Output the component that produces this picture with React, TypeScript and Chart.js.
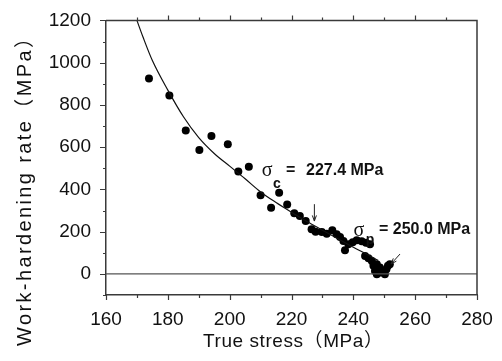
import React, { useEffect, useRef } from 'react';
import { Chart, registerables } from 'chart.js';

Chart.register(...registerables);

// Measured points: true stress (MPa) and work-hardening rate (MPa)
const stressValues = [
  173.9, 180.5, 185.8, 190.2, 194.1, 199.4, 202.8, 206.2, 210.0, 213.4,
  216.0, 218.6, 220.9, 222.7, 224.6, 226.5, 227.8, 229.8, 231.4, 233.2,
  234.6, 235.7, 236.8, 237.3, 238.4, 239.8, 241.1, 242.7, 244.1, 245.4,
  243.8, 244.9, 246.0, 246.5, 247.6, 248.6, 249.7, 250.2, 248.6, 247.0,
  250.7, 251.2, 251.8, 247.6,
];
const rateValues = [
  925, 844, 679, 587, 653, 614, 485, 507, 372, 313,
  384, 329, 287, 274, 250, 211, 200, 198, 190, 206,
  188, 175, 156, 112, 140, 150, 159, 155, 147, 140,
  85, 74, 61, 38, 46, 30, 14, -2, 6, 14,
  22, 38, 46, -2,
];

// Fitted curve
const fitStress = [170, 172, 175, 180, 185, 190, 195, 200, 205, 210, 215, 220, 225, 230, 235, 240, 245, 248];
const fitRate = [1200, 1120, 1010, 870, 745, 645, 570, 510, 450, 388, 338, 292, 248, 207, 166, 126, 88, 64];

// Axis ranges and ticks
const xMin = 160;
const xMax = 280;
const xStep = 10;
const xLabelStep = 20;
const yMin = -100;
const yMax = 1200;
const yStep = 100;
const yLabelStep = 200;

const xTitle = 'True stress（MPa）';
const yTitle = 'Work-hardening rate（MPa）';

const sigmaC = 227.4;
const sigmaP = 250.0;

const FONT = '"Liberation Sans", Arial, "Noto Sans CJK SC", sans-serif';
const AXIS = '#3a3a3a';

const decorPlugin = {
  id: 'decor',
  afterDraw(chart: any) {
    const { ctx, chartArea: a, scales } = chart;
    const xs = scales.x;
    const ys = scales.y;
    ctx.save();

    // frame top & right
    ctx.strokeStyle = AXIS;
    ctx.lineWidth = 1.5;
    ctx.beginPath();
    ctx.moveTo(a.left, a.top);
    ctx.lineTo(a.right, a.top);
    ctx.lineTo(a.right, a.bottom);
    ctx.stroke();

    // tick marks
    ctx.lineWidth = 1.2;
    ctx.beginPath();
    for (let v = xMin; v <= xMax; v += xStep) {
      const px = Math.round(xs.getPixelForValue(v)) + 0.5;
      const major = v % xLabelStep === 0;
      const len = major ? 5 : 3;
      ctx.moveTo(px, a.bottom);
      ctx.lineTo(px, a.bottom + len);
      if (v > xMin && v < xMax) {
        ctx.moveTo(px, a.top);
        ctx.lineTo(px, a.top - len);
      }
    }
    for (let v = yMin; v <= yMax; v += yStep) {
      const py = Math.round(ys.getPixelForValue(v)) + 0.5;
      const major = v % yLabelStep === 0;
      const len = major ? 6 : 3;
      ctx.moveTo(a.left, py);
      ctx.lineTo(a.left - len, py);
    }
    ctx.stroke();

    // annotations
    const X = (v: number) => xs.getPixelForValue(v);
    const Y = (v: number) => ys.getPixelForValue(v);
    ctx.fillStyle = '#111';
    ctx.textBaseline = 'middle';

    // sigma_c
    ctx.textAlign = 'center';
    ctx.font = '20px "Liberation Serif", "DejaVu Serif", serif';
    ctx.fillText('σ', X(212.1), Y(487));
    ctx.font = 'bold 14px ' + FONT;
    ctx.fillText('c', X(215.3), Y(425));
    ctx.textAlign = 'left';
    ctx.font = 'bold 16px ' + FONT;
    ctx.fillText('=', X(218.2), Y(490));
    ctx.fillText(sigmaC.toFixed(1) + ' MPa', X(224.7), Y(490));

    // sigma_p
    ctx.textAlign = 'center';
    ctx.font = '20px "Liberation Serif", "DejaVu Serif", serif';
    ctx.fillText('σ', X(241.8), Y(206));
    ctx.font = 'bold 14px ' + FONT;
    ctx.fillText('p', X(245.4), Y(160));
    ctx.textAlign = 'left';
    ctx.font = 'bold 16px ' + FONT;
    ctx.fillText('= ' + sigmaP.toFixed(1) + ' MPa', X(248.3), Y(208));

    // arrows
    const arrow = (x1: number, y1: number, x2: number, y2: number) => {
      const ax = X(x1), ay = Y(y1), bx = X(x2), by = Y(y2);
      const ang = Math.atan2(by - ay, bx - ax);
      ctx.strokeStyle = '#222';
      ctx.lineWidth = 1;
      ctx.beginPath();
      ctx.moveTo(ax, ay);
      ctx.lineTo(bx, by);
      ctx.moveTo(bx - 6 * Math.cos(ang - 0.35), by - 6 * Math.sin(ang - 0.35));
      ctx.lineTo(bx, by);
      ctx.lineTo(bx - 6 * Math.cos(ang + 0.35), by - 6 * Math.sin(ang + 0.35));
      ctx.stroke();
    };
    arrow(sigmaC, 330, sigmaC, 250);
    arrow(255.1, 94, 252.2, 47);

    // axis titles
    const spacedText = (text: string, cx: number, cy: number, rot: number, size: number, target: number) => {
      ctx.save();
      ctx.translate(cx, cy);
      ctx.rotate(rot);
      ctx.font = size + 'px ' + FONT;
      ctx.fillStyle = '#111';
      ctx.textAlign = 'center';
      ctx.textBaseline = 'middle';
      const natural = ctx.measureText(text).width;
      const n = Array.from(text).length;
      const sp = Math.max(0, (target - natural) / (n - 1));
      (ctx as any).letterSpacing = sp.toFixed(2) + 'px';
      ctx.fillText(text, sp / 2, 0);
      ctx.restore();
    };
    spacedText(xTitle, 293, 342, 0, 19, 180);
    spacedText(yTitle, 25, 187, -Math.PI / 2, 20, 318);

    ctx.restore();
  },
};

export default function App() {
  const ref = useRef<HTMLCanvasElement>(null);

  useEffect(() => {
    if (!ref.current) return;
    const points = stressValues.map((x, i) => ({ x, y: rateValues[i] }));
    const fit = fitStress.map((x, i) => ({ x, y: fitRate[i] }));
    const chart = new Chart(ref.current, {
      type: 'scatter',
      data: {
        datasets: [
          {
            type: 'line',
            data: [{ x: xMin, y: 0 }, { x: xMax, y: 0 }],
            borderColor: '#555',
            borderWidth: 1.3,
            pointRadius: 0,
            showLine: true,
          } as any,
          {
            type: 'line',
            data: fit,
            borderColor: '#111',
            borderWidth: 1.2,
            pointRadius: 0,
            cubicInterpolationMode: 'monotone',
            showLine: true,
          } as any,
          {
            data: points,
            backgroundColor: '#000',
            borderColor: '#000',
            pointRadius: 4,
            pointBorderWidth: 0,
          },
        ],
      },
      options: {
        animation: false,
        responsive: false,
        maintainAspectRatio: false,
        layout: { padding: { top: 19, right: 25, left: 0, bottom: 0 } },
        plugins: {
          legend: { display: false },
          tooltip: { enabled: false },
        },
        scales: {
          x: {
            type: 'linear',
            min: xMin,
            max: xMax,
            afterFit: (s: any) => { s.height = 66; },
            grid: { display: false, drawTicks: true, tickLength: 6 },
            border: { display: true, color: AXIS, width: 1.5 },
            ticks: {
              stepSize: xStep,
              padding: 7,
              color: '#111',
              font: { size: 19, family: FONT },
              maxRotation: 0,
              autoSkip: false,
              callback: (v: any) => (Number(v) % xLabelStep === 0 ? String(v) : ''),
            },
          },
          y: {
            type: 'linear',
            min: yMin,
            max: yMax,
            afterFit: (s: any) => { s.width = 106; },
            grid: { display: false, drawTicks: true, tickLength: 6 },
            border: { display: true, color: AXIS, width: 1.5 },
            ticks: {
              stepSize: yStep,
              padding: 9,
              color: '#111',
              font: { size: 19, family: FONT },
              autoSkip: false,
              callback: (v: any) => (Number(v) % yLabelStep === 0 && Number(v) >= 0 ? String(v) : ''),
            },
          },
        },
      },
      plugins: [decorPlugin],
    });
    return () => chart.destroy();
  }, []);

  return (
    <div style={{ position: 'fixed', left: 0, top: 0, width: 502, height: 361, background: '#fff' }}>
      <canvas ref={ref} width={502} height={361} style={{ width: 502, height: 361, display: 'block' }} />
    </div>
  );
}
